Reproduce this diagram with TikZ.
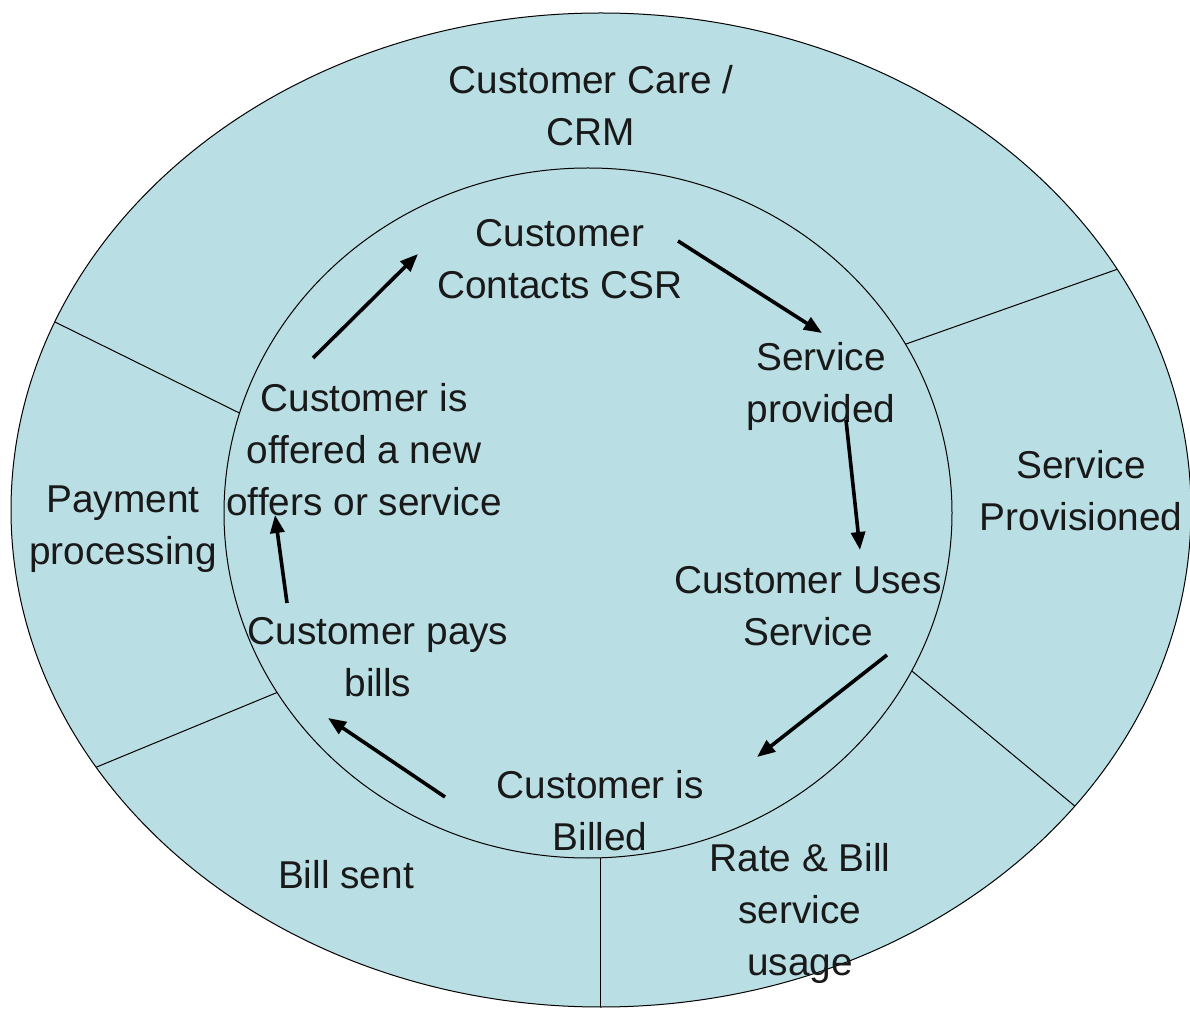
\documentclass[tikz,border=0pt]{standalone}
\usepackage{fontspec}
\setmainfont{Liberation Sans}
\usetikzlibrary{shapes.geometric, arrows.meta}
\definecolor{ringblue}{RGB}{185,222,227}

\begin{document}
\begin{tikzpicture}[
        x=0.5pt, y=-0.5pt,
        every node/.style={align=center, font=\fontsize{19.4}{26}\selectfont, text=black!90},
        ring/.style={ellipse, draw, fill=ringblue, line width=0.5pt, inner sep=0pt, outer sep=0pt},
        divider/.style={line width=0.5pt},
        flow/.style={-{Triangle[length=9pt,width=7pt]}, line width=1.8pt}
    ]
      \useasboundingbox (0,0) rectangle (1190,1010);

      % Rings
      \node[ring, minimum width=590pt, minimum height=497pt] (outer) at (601,510) {};
      \node[ring, minimum width=364pt, minimum height=345pt] (inner) at (588,513) {};

      % Dividers of the outer ring
      \draw[divider] (inner.164) -- (outer.161);
      \draw[divider] (inner.28) -- (outer.25);
      \draw[divider] (inner.-26) -- (outer.-32);
      \draw[divider] (inner.-88) -- (inner.-88 |- outer.south);
      \draw[divider] (inner.210) -- (outer.207);

      % Outer ring labels
      \node (care) at (591,106) {Customer Care /\\CRM};
      \node (provisioned) at (1081,491) {Service\\Provisioned};
      \node (rate) at (800,913) {Rate \& Bill\\service\\usage};
      \node (sent) at (346,875) {Bill sent};
      \node (payment) at (123,529) {Payment\\processing};

      % Inner cycle
      \node (contact) at (560,259) {Customer\\Contacts CSR};
      \node (provided) at (821,386) {Service\\provided};
      \node (uses) at (808,606) {Customer Uses\\Service};
      \node (billed) at (600,811) {Customer is\\Billed};
      \node (pays) at (378,657) {Customer pays\\bills};
      \node (offered) at (364,450) {Customer is\\offered a new\\offers or service};

      % Arrow ends
      \coordinate (offered-out) at (313,358);
      \coordinate (contact-in) at (418,254);
      \coordinate (contact-out) at (678,241);
      \coordinate (provided-in) at (822,333);
      \coordinate (provided-out) at (846,420);
      \coordinate (uses-in) at (860,550);
      \coordinate (uses-out) at (887,655);
      \coordinate (billed-in) at (757,757);
      \coordinate (billed-out) at (445,797);
      \coordinate (pays-in) at (328,718);
      \coordinate (pays-out) at (287,603);
      \coordinate (offered-in) at (275,515);

      % Arrows between steps
      \draw[flow] (offered-out) -- (contact-in);
      \draw[flow] (contact-out) -- (provided-in);
      \draw[flow] (provided-out) -- (uses-in);
      \draw[flow] (uses-out) -- (billed-in);
      \draw[flow] (billed-out) -- (pays-in);
      \draw[flow] (pays-out) -- (offered-in);
    \end{tikzpicture}
\end{document}
